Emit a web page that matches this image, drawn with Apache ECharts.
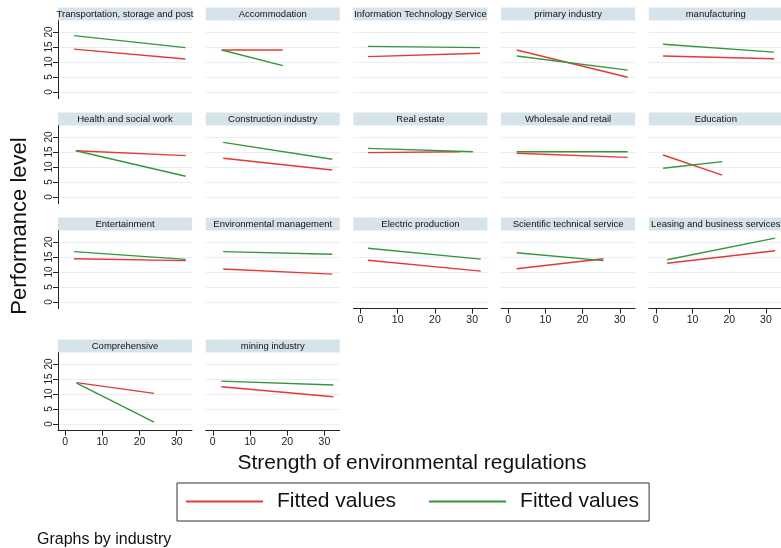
<!DOCTYPE html>
<html><head><meta charset="utf-8">
<script src="https://cdn.jsdelivr.net/npm/echarts@6/dist/echarts.min.js"></script>
<style>html,body{margin:0;padding:0;background:#fff}#c{width:781px;height:548px}</style>
</head><body><div id="c"></div>
<script>
// ---- data ----
const industries = [
  'Transportation, storage and post', 'Accommodation', 'Information Technology Service', 'primary industry', 'manufacturing',
  'Health and social work', 'Construction industry', 'Real estate', 'Wholesale and retail', 'Education',
  'Entertainment', 'Environmental management', 'Electric production', 'Scientific technical service', 'Leasing and business services',
  'Comprehensive', 'mining industry'
];
const xStart    = [2.4, 2.4, 2.0, 2.3, 2.0,  2.9, 2.8, 2.0, 2.3, 2.0,  2.4, 2.8, 2.0, 2.3, 3.1,  3.1, 2.3];
const redXEnd   = [32.3, 18.8, 32.1, 32.1, 32.2,  32.4, 32.1, 26.8, 32.1, 18.1,  32.4, 32.1, 32.3, 25.6, 32.5,  23.9, 32.4];
const greenXEnd = [32.3, 18.8, 32.1, 32.1, 32.2,  32.4, 32.1, 30.2, 32.1, 18.1,  32.4, 32.1, 32.3, 25.6, 32.5,  23.9, 32.4];
const redStart   = [14.3, 14.0, 11.8, 14.0, 12.0,  15.4, 12.9, 14.8, 14.6, 14.0,  14.4, 11.0, 13.9, 11.1, 12.9,  13.8, 12.4];
const redEnd     = [11.0, 14.0, 12.9,  4.9, 11.1,  13.8,  9.0, 15.1, 13.2,  7.3,  13.8,  9.3, 10.3, 14.4, 17.1,  10.2,  9.1];
const greenStart = [18.8, 14.0, 15.2, 12.0, 15.9,  15.4, 18.2, 16.2, 15.1,  9.6,  16.8, 16.8, 17.9, 16.4, 14.1,  13.6, 14.3];
const greenEnd   = [14.8,  8.8, 14.8,  7.3, 13.3,   6.9, 12.6, 15.1, 15.1, 11.8,  14.2, 15.9, 14.3, 13.8, 21.3,   0.6, 13.0];
const xTicks = [0, 10, 20, 30];
const yTicks = [0, 5, 10, 15, 20];
const seriesNames = ['Fitted values', 'Fitted values 2'];

// ---- layout ----
const colLeft = [58, 205.7, 353.4, 501.1, 648.8];
const rowTop = [20.6, 125.6, 230.6, 352.6];
const plotW = 134, plotH = 78, stripH = 13;
const RED = '#e53935', GREEN = '#35963a';
const FONT = '"Liberation Sans", Arial, sans-serif';

const nCols = 5;
function isBottom(i) {
  const c = i % nCols, r = Math.floor(i / nCols);
  return (c <= 1 && r === 3) || (c >= 2 && r === 2);
}

const grids = [], xAxes = [], yAxes = [], series = [], graphics = [];
industries.forEach((name, i) => {
  const c = i % nCols, r = Math.floor(i / nCols);
  const left = colLeft[c], top = rowTop[r];
  grids.push({ left: left, top: top, width: plotW, height: plotH, containLabel: false });
  const bottom = isBottom(i);
  xAxes.push({
    type: 'value', gridIndex: i, min: -1.9, max: 34.1,
    axisLine: { show: bottom, onZero: false, lineStyle: { color: '#222', width: 1 } },
    axisTick: { show: bottom, length: 5, customValues: xTicks, lineStyle: { color: '#222' } },
    axisLabel: { show: bottom, customValues: xTicks, fontSize: 10.5, color: '#222', margin: 6, fontFamily: FONT },
    splitLine: { show: false }
  });
  yAxes.push({
    type: 'value', gridIndex: i, min: -2.2, max: 23.8,
    axisLine: { show: c === 0, onZero: false, lineStyle: { color: '#222', width: 1 } },
    axisTick: { show: c === 0, length: 5, customValues: yTicks, lineStyle: { color: '#222' } },
    axisLabel: { show: c === 0, customValues: yTicks, rotate: 90, fontSize: 10, color: '#222', margin: 4, fontFamily: FONT },
    splitLine: { show: true, lineStyle: { color: '#e8eef1', width: 1 } }
  });
  series.push({
    name: seriesNames[0], type: 'line', xAxisIndex: i, yAxisIndex: i,
    data: [[xStart[i], redStart[i]], [redXEnd[i], redEnd[i]]],
    symbol: 'none', silent: true, color: RED, lineStyle: { color: RED, width: 1.4 }, z: 3
  });
  series.push({
    name: seriesNames[1], type: 'line', xAxisIndex: i, yAxisIndex: i,
    data: [[xStart[i], greenStart[i]], [greenXEnd[i], greenEnd[i]]],
    symbol: 'none', silent: true, color: GREEN, lineStyle: { color: GREEN, width: 1.4 }, z: 3
  });
  graphics.push({
    type: 'rect', shape: { x: left, y: top - stripH, width: plotW, height: stripH },
    style: { fill: '#d7e3ea' }, silent: true
  });
  graphics.push({
    type: 'text', x: left + plotW / 2, y: top - stripH / 2 + 0.5,
    style: { text: name, fontSize: 9.5, fill: '#111', align: 'center', verticalAlign: 'middle', fontFamily: FONT },
    silent: true, z: 5
  });
});

graphics.push({
  type: 'text', x: 412, y: 463,
  style: { text: 'Strength of environmental regulations', fontSize: 21, fill: '#111', align: 'center', verticalAlign: 'middle', fontFamily: FONT }
});
graphics.push({
  type: 'text', x: 20, y: 226, rotation: Math.PI / 2,
  style: { text: 'Performance level', fontSize: 22, fill: '#111', align: 'center', verticalAlign: 'middle', fontFamily: FONT }
});
graphics.push({
  type: 'text', x: 37, y: 540,
  style: { text: 'Graphs by industry', fontSize: 16, fill: '#111', align: 'left', verticalAlign: 'middle', fontFamily: FONT }
});

const chart = echarts.init(document.getElementById('c'), null, { renderer: 'canvas' });
chart.setOption({
  animation: false,
  backgroundColor: '#fff',
  textStyle: { fontFamily: FONT },
  grid: grids, xAxis: xAxes, yAxis: yAxes, series: series,
  graphic: graphics,
  legend: {
    data: seriesNames, left: 177, top: 483, orient: 'horizontal',
    icon: 'rect', itemWidth: 77, itemHeight: 2, itemGap: 33,
    formatter: () => 'Fitted values',
    textStyle: { fontSize: 21, color: '#111', padding: [0, 0, 0, 9], fontFamily: FONT },
    borderColor: '#333', borderWidth: 1, padding: [8, 10, 9, 9],
    selectedMode: false
  }
});
</script></body></html>
